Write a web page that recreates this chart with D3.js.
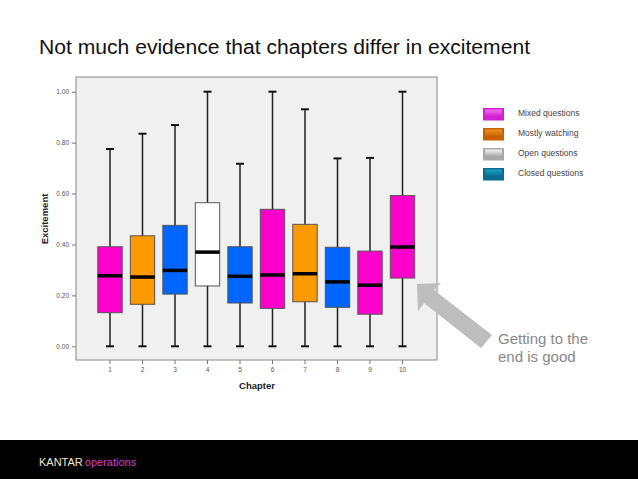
<!DOCTYPE html>
<html><head><meta charset="utf-8">
<script src="https://cdn.jsdelivr.net/npm/d3@7"></script>
<style>html,body{margin:0;padding:0;background:#fff;}svg{display:block;}</style>
</head><body>
<script>
const chapters = ["1","2","3","4","5","6","7","8","9","10"];
const chapterType = ["Mixed questions","Mostly watching","Closed questions","Open questions","Closed questions","Mixed questions","Mostly watching","Closed questions","Mixed questions","Mixed questions"];
const minVals = [0,0,0,0,0,0,0,0,0,0];
const q1Vals = [0.132,0.165,0.205,0.237,0.170,0.149,0.175,0.153,0.126,0.268];
const medianVals = [0.277,0.272,0.298,0.370,0.275,0.280,0.285,0.253,0.240,0.390];
const q3Vals = [0.391,0.434,0.475,0.564,0.391,0.538,0.479,0.389,0.374,0.592];
const maxVals = [0.775,0.835,0.869,1.0,0.717,1.0,0.931,0.738,0.740,1.0];
const yTicks = [0,0.2,0.4,0.6,0.8,1.0];
const legendLabels = ["Mixed questions","Mostly watching","Open questions","Closed questions"];
const boxColors = {"Mixed questions":"#ff00cc","Mostly watching":"#ff9900","Open questions":"#ffffff","Closed questions":"#0066ff"};
const legendColors = {"Mixed questions":["#f070f0","#d020d0"],"Mostly watching":["#f09020","#c86000"],"Open questions":["#f4f4f4","#a8a8a8"],"Closed questions":["#20a0c8","#0a6c90"]};

const W = 638, H = 479;
const svg = d3.select("body").append("svg").attr("width", W).attr("height", H);
const defs = svg.append("defs");

// Title
svg.append("text").attr("x", 39).attr("y", 53.5)
  .attr("font-family", "Liberation Sans, Arial, sans-serif").attr("font-size", 19.5)
  .attr("textLength", 491).attr("lengthAdjust", "spacingAndGlyphs")
  .attr("fill", "#111").text("Not much evidence that chapters differ in excitement");

// Panel
const panel = {x0: 76, x1: 437, y0: 77, y1: 360};
svg.append("rect").attr("x", panel.x0).attr("y", panel.y0)
  .attr("width", panel.x1 - panel.x0).attr("height", panel.y1 - panel.y0)
  .attr("fill", "#f0f0f0").attr("stroke", "#9a9a9a").attr("stroke-width", 1.2);

const x = d3.scaleBand().domain(chapters).range([93.75, 418.75]).paddingInner(0.25).paddingOuter(0.125);
const y = d3.scaleLinear().domain([0, 1]).range([346.3, 91.7]);

// Axes
const yAxis = d3.axisLeft(y).tickValues(yTicks).tickFormat(d3.format(".2f")).tickSize(4).tickPadding(3);
const gy = svg.append("g").attr("transform", `translate(${panel.x0},0)`).call(yAxis);
gy.select(".domain").remove();
gy.selectAll("line").attr("stroke", "#777");
gy.selectAll("text").attr("font-family", "Liberation Sans, Arial, sans-serif").attr("font-size", 6.5).attr("fill", "#555");

const xAxis = d3.axisBottom(x).tickSize(4).tickPadding(3);
const gx = svg.append("g").attr("transform", `translate(0,${panel.y1})`).call(xAxis);
gx.select(".domain").remove();
gx.selectAll("line").attr("stroke", "#777");
gx.selectAll("text").attr("font-family", "Liberation Sans, Arial, sans-serif").attr("font-size", 6.5).attr("fill", "#555");

// Axis titles
svg.append("text").attr("x", 257).attr("y", 389).attr("text-anchor", "middle")
  .attr("font-family", "Liberation Sans, Arial, sans-serif").attr("font-size", 9.5).attr("font-weight", "bold")
  .attr("fill", "#222").text("Chapter");
svg.append("text").attr("transform", "translate(48,219) rotate(-90)").attr("text-anchor", "middle")
  .attr("font-family", "Liberation Sans, Arial, sans-serif").attr("font-size", 9.5).attr("font-weight", "bold")
  .attr("fill", "#222").text("Excitement");

// Boxes
const data = chapters.map((c, i) => ({c, type: chapterType[i], min: minVals[i], q1: q1Vals[i], med: medianVals[i], q3: q3Vals[i], max: maxVals[i]}));
const bw = x.bandwidth();
const g = svg.append("g");
const bx = g.selectAll("g.box").data(data).join("g").attr("class", "box");
bx.append("line").attr("x1", d => x(d.c) + bw / 2).attr("x2", d => x(d.c) + bw / 2)
  .attr("y1", d => y(d.max)).attr("y2", d => y(d.min)).attr("stroke", "#222").attr("stroke-width", 1.5);
bx.append("line").attr("x1", d => x(d.c) + bw / 2 - 4).attr("x2", d => x(d.c) + bw / 2 + 4)
  .attr("y1", d => y(d.max)).attr("y2", d => y(d.max)).attr("stroke", "#111").attr("stroke-width", 2);
bx.append("line").attr("x1", d => x(d.c) + bw / 2 - 4).attr("x2", d => x(d.c) + bw / 2 + 4)
  .attr("y1", d => y(d.min)).attr("y2", d => y(d.min)).attr("stroke", "#111").attr("stroke-width", 2);
bx.append("rect").attr("x", d => x(d.c)).attr("width", bw)
  .attr("y", d => y(d.q3)).attr("height", d => y(d.q1) - y(d.q3))
  .attr("fill", d => boxColors[d.type]).attr("stroke", "#555").attr("stroke-width", 1);
bx.append("line").attr("x1", d => x(d.c)).attr("x2", d => x(d.c) + bw)
  .attr("y1", d => y(d.med)).attr("y2", d => y(d.med)).attr("stroke", "#000").attr("stroke-width", 3.5);

// Legend
legendLabels.forEach((lab, i) => {
  const gid = "lg" + i;
  const grad = defs.append("linearGradient").attr("id", gid).attr("x1", 0).attr("y1", 0).attr("x2", 0).attr("y2", 1);
  grad.append("stop").attr("offset", "0%").attr("stop-color", legendColors[lab][0]);
  grad.append("stop").attr("offset", "100%").attr("stop-color", legendColors[lab][1]);
  const ly = 108 + i * 20;
  svg.append("rect").attr("x", 483).attr("y", ly).attr("width", 21).attr("height", 12.5)
    .attr("fill", legendColors[lab][1]);
  svg.append("rect").attr("x", 485).attr("y", ly + 1.5).attr("width", 17).attr("height", 7)
    .attr("fill", `url(#${gid})`);
  svg.append("text").attr("x", 518).attr("y", ly + 8)
    .attr("font-family", "Liberation Sans, Arial, sans-serif").attr("font-size", 8.5)
    .attr("fill", "#444").text(lab);
});

// Arrow
const arrowPts = [[417, 284], [441, 283], [434, 290], [492, 335], [481, 348], [424, 303], [418, 311]];
svg.append("polygon").attr("points", arrowPts.map(p => p.join(",")).join(" ")).attr("fill", "#bdbdbd");
svg.append("text").attr("font-family", "Liberation Sans, Arial, sans-serif").attr("font-size", 15)
  .attr("fill", "#888")
  .selectAll("tspan").data(["Getting to the", "end is good"]).join("tspan")
  .attr("x", 498).attr("y", (d, i) => 344 + i * 18).text(d => d);

// Footer
svg.append("rect").attr("x", 0).attr("y", 440).attr("width", W).attr("height", H - 440).attr("fill", "#000");
const ft = svg.append("text").attr("x", 39).attr("y", 466)
  .attr("font-family", "Liberation Sans, Arial, sans-serif").attr("font-size", 11);
ft.append("tspan").attr("fill", "#efe8c8").text("KANTAR");
ft.append("tspan").attr("fill", "#d43cd0").attr("dx", 2).text("operations");
</script>
</body></html>
